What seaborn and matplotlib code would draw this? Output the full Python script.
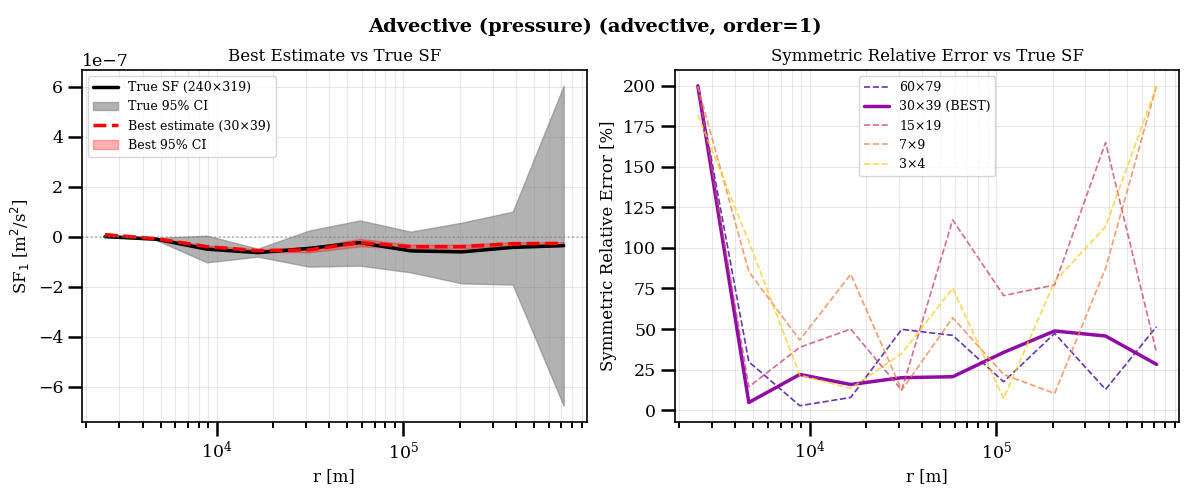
import numpy as np
import pandas as pd
import seaborn as sns
import matplotlib.pyplot as plt

# --- DATA ---
r = [2518, 4721, 8851, 16596, 31117, 58345, 109400, 205100, 384600, 721100]

true_sf = [0.0, -0.10, -0.50, -0.64, -0.47, -0.24, -0.57, -0.61, -0.43, -0.36]        # x1e-7
true_lo = [0.0, -0.13, -1.03, -0.80, -1.20, -1.16, -1.43, -1.87, -1.92, -6.77]
true_hi = [0.0, -0.05, 0.04, -0.48, 0.24, 0.65, 0.20, 0.56, 1.00, 6.04]

best_sf = [0.08, -0.08, -0.40, -0.56, -0.53, -0.24, -0.40, -0.40, -0.28, -0.27]
best_lo = [0.06, -0.11, -0.45, -0.61, -0.63, -0.39, -0.48, -0.48, -0.34, -0.32]
best_hi = [0.10, -0.05, -0.35, -0.51, -0.43, -0.09, -0.32, -0.32, -0.22, -0.22]

res_labels = ["60×79", "30×39 (BEST)", "15×19", "7×9", "3×4"]
err_60 = [200, 29.8, 2.7, 7.8, 49.8, 46.1, 17.5, 47.3, 12.8, 51.5]
err_30 = [200, 4.7, 22.0, 15.8, 20.0, 20.6, 35.6, 48.8, 45.7, 28.2]
err_15 = [200, 14.4, 38.7, 50.0, 12.3, 117.3, 70.6, 77.2, 165.0, 35.4]
err_7 = [199.6, 85.4, 43.2, 83.8, 12.3, 57.0, 22.0, 10.3, 87.5, 200]
err_3 = [182, 103.9, 21.6, 13.4, 35.0, 75.1, 7.2, 79.2, 113.2, 200]

# --- STYLE ---
sns.set_style("ticks")
plt.rcParams['font.family'] = ['DejaVu Serif']
plt.rcParams.update({
    'font.size': 12, 'axes.titlesize': 12, 'axes.labelsize': 12,
    'xtick.labelsize': 12.5, 'ytick.labelsize': 12.5,
    'xtick.major.size': 10, 'xtick.minor.size': 4.5,
    'ytick.major.size': 10, 'ytick.minor.size': 4.5,
    'xtick.major.width': 1.8, 'xtick.minor.width': 1.4,
    'ytick.major.width': 1.8, 'ytick.minor.width': 1.4,
    'axes.edgecolor': 'black', 'axes.linewidth': 1.2,
    'xtick.color': 'black', 'ytick.color': 'black',
    'text.color': 'black', 'axes.labelcolor': 'black',
    'grid.color': '#b0b0b0',
})

fig, (ax1, ax2) = plt.subplots(1, 2, figsize=(11.89, 4.95), dpi=100)

# --- Left: best estimate vs true SF ---
scale = 1e-7
df = pd.DataFrame({"r": r,
                   "true": np.array(true_sf) * scale,
                   "best": np.array(best_sf) * scale})
sns.lineplot(data=df, x="r", y="true", ax=ax1, color="black", lw=2.5,
             label="True SF (240×319)")
ax1.fill_between(r, np.array(true_lo) * scale, np.array(true_hi) * scale,
                 color="gray", alpha=0.6, label="True 95% CI")
sns.lineplot(data=df, x="r", y="best", ax=ax1, color="red", lw=2.5, ls="--",
             label="Best estimate (30×39)")
ax1.fill_between(r, np.array(best_lo) * scale, np.array(best_hi) * scale,
                 color="red", alpha=0.3, label="Best 95% CI")
ax1.axhline(0, color="gray", ls=":", alpha=0.6, lw=1.2)
ax1.set_xscale("log")
ax1.set_xlabel("r [m]")
ax1.set_ylabel("SF$_1$ [m$^2$/s$^2$]")
ax1.set_title("Best Estimate vs True SF")
ax1.grid(True, which="both", alpha=0.3)
ax1.legend(loc="upper left", fontsize=9)

# --- Right: symmetric relative error ---
colors = plt.cm.plasma(np.linspace(0.1, 0.9, 5))
errs = [err_60, err_30, err_15, err_7, err_3]
for lab, e, c in zip(res_labels, errs, colors):
    best = "BEST" in lab
    sns.lineplot(x=r, y=e, ax=ax2, color=c,
                 lw=2.5 if best else 1.2, ls="-" if best else "--",
                 alpha=1.0 if best else 0.8, label=lab)
ax2.set_xscale("log")
ax2.set_xlabel("r [m]")
ax2.set_ylabel("Symmetric Relative Error [%]")
ax2.set_title("Symmetric Relative Error vs True SF")
ax2.grid(True, which="both", alpha=0.3)
ax2.legend(loc="upper center", fontsize=9)

fig.suptitle("Advective (pressure) (advective, order=1)", fontsize=14,
             fontweight="bold", y=0.965)
fig.subplots_adjust(left=0.069, right=0.992, bottom=0.148, top=0.859, wspace=0.175)
plt.savefig("out.png", dpi=100)
